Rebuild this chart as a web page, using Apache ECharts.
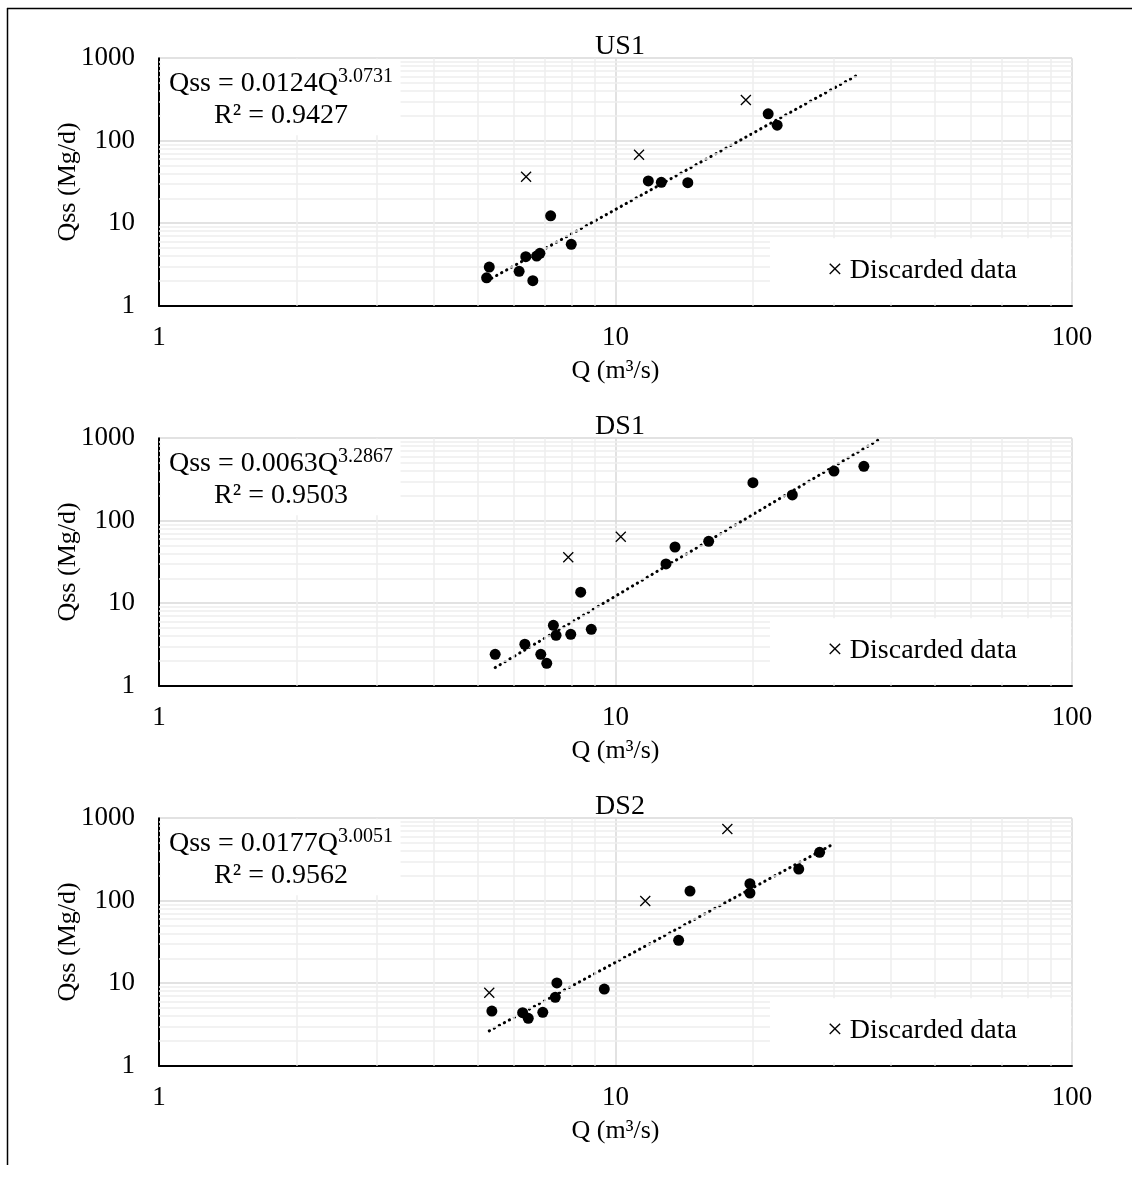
<!DOCTYPE html>
<html>
<head>
<meta charset="utf-8">
<script src="https://cdn.jsdelivr.net/npm/echarts@6/dist/echarts.min.js"></script>
<style>
html,body{margin:0;padding:0;background:#fff;}
#c{width:1132px;height:1178px;}
</style>
</head>
<body>
<div id="c"></div>
<script>
// ---- data ----
const panelNames = ['US1', 'DS1', 'DS2'];

const us1Q   = [5.22, 5.29, 6.15, 6.36, 6.59, 6.72, 6.83, 7.21, 8.0, 11.8, 12.6, 14.4, 21.6, 22.6];
const us1Qss = [2.18, 2.94, 2.61, 3.93, 2.01, 4.0, 4.32, 12.3, 5.55, 32.5, 31.3, 31.0, 212, 154];
const us1DiscQ   = [6.37, 11.26, 19.3];
const us1DiscQss = [36.6, 67.7, 311];

const ds1Q   = [5.45, 6.33, 6.86, 7.07, 7.31, 7.41, 7.98, 8.39, 8.85, 12.9, 13.5, 16.0, 20.0, 24.4, 30.1, 35.0];
const ds1Qss = [2.40, 3.18, 2.40, 1.87, 5.40, 4.08, 4.20, 13.6, 4.83, 29.9, 48.0, 56.3, 289, 205, 400, 456];
const ds1DiscQ   = [7.88, 10.27];
const ds1DiscQss = [36.0, 64.0];

const ds2Q   = [5.36, 6.26, 6.44, 6.93, 7.38, 7.44, 9.45, 13.75, 14.56, 19.7, 19.7, 25.2, 28.0];
const ds2Qss = [4.60, 4.39, 3.75, 4.44, 6.75, 10.06, 8.5, 33.1, 131, 161, 124, 242, 386];
const ds2DiscQ   = [5.29, 11.62, 17.58];
const ds2DiscQss = [7.67, 99.2, 740];

// trend lines (power fits as printed on the chart) and Q range they span
const trendA     = [0.0124, 0.0063, 0.0177];
const trendB     = [3.0731, 3.2867, 3.0051];
const trendR2    = ['0.9427', '0.9503', '0.9562'];
const trendQFrom = [5.22, 5.45, 5.29];
const trendQTo   = [33.6, 38.2, 29.8];

const xTicks = [1, 10, 100];
const yTicks = [1, 10, 100, 1000];
const xMinor = [2,3,4,5,6,7,8,9,20,30,40,50,60,70,80,90];
const yMinor = [2,3,4,5,6,7,8,9,20,30,40,50,60,70,80,90,200,300,400,500,600,700,800,900];

const keptQ = [us1Q, ds1Q, ds2Q], keptQss = [us1Qss, ds1Qss, ds2Qss];
const discQ = [us1DiscQ, ds1DiscQ, ds2DiscQ], discQss = [us1DiscQss, ds1DiscQss, ds2DiscQss];

// ---- layout ----
const FONT = 'Liberation Serif';
const tops = [58.2, 438.2, 818.2];
const GL = 159, GW = 913, GH = 247.5;

const chart = echarts.init(document.getElementById('c'), null, {renderer: 'canvas'});

const grid = [], xAxis = [], yAxis = [], series = [], title = [], graphic = [];
const zip = (a, b) => a.map((v, i) => [v, b[i]]);
const crossPath = 'path://M0,0L10,10M10,0L0,10';

for (let i = 0; i < 3; i++) {
  const T = tops[i];
  grid.push({left: GL, top: T, width: GW, height: GH});
  xAxis.push({
    type: 'log', logBase: 10, min: xTicks[0], max: xTicks[xTicks.length - 1], gridIndex: i,
    name: 'Q (m³/s)', nameLocation: 'middle', nameGap: 52, nameMoveOverlap: false,
    nameTextStyle: {fontFamily: FONT, fontSize: 26, color: '#000'},
    axisLine: {show: true, onZero: false, lineStyle: {color: '#000', width: 2}},
    axisTick: {show: false},
    axisLabel: {fontFamily: FONT, fontSize: 27, color: '#000', margin: 19,
      formatter: v => String(Math.round(v))},
    splitLine: {show: true, lineStyle: {color: '#d9d9d9', width: 1.5}}
  });
  yAxis.push({
    type: 'log', logBase: 10, min: yTicks[0], max: yTicks[yTicks.length - 1], gridIndex: i,
    name: 'Qss (Mg/d)', nameLocation: 'middle', nameGap: 78, nameRotate: 90, nameMoveOverlap: false,
    nameTextStyle: {fontFamily: FONT, fontSize: 26, color: '#000'},
    axisLine: {show: true, onZero: false, lineStyle: {color: '#000', width: 2}},
    axisTick: {show: false},
    axisLabel: {fontFamily: FONT, fontSize: 27, color: '#000', margin: 24,
      formatter: v => String(Math.round(v))},
    splitLine: {show: true, lineStyle: {color: '#d9d9d9', width: 1.5}}
  });
  // minor gridlines
  series.push({
    type: 'line', xAxisIndex: i, yAxisIndex: i, data: [], z: 1, silent: true,
    markLine: {
      silent: true, symbol: ['none', 'none'], animation: false,
      label: {show: false},
      lineStyle: {color: '#eeeeee', type: 'solid', width: 1.5},
      data: xMinor.map(v => ({xAxis: v})).concat(yMinor.map(v => ({yAxis: v})))
    }
  });
  // trend line
  const tq = [trendQFrom[i], trendQTo[i]];
  series.push({
    type: 'line', xAxisIndex: i, yAxisIndex: i, z: 3, silent: true,
    showSymbol: false, animation: false,
    data: tq.map(q => [q, trendA[i] * Math.pow(q, trendB[i])]),
    lineStyle: {color: '#000', width: 3, type: [0.3, 5.4], cap: 'round', opacity: 1}
  });
  // kept data
  series.push({
    type: 'scatter', xAxisIndex: i, yAxisIndex: i, z: 5, animation: false,
    data: zip(keptQ[i], keptQss[i]),
    symbol: 'circle', symbolSize: 11, itemStyle: {color: '#000', opacity: 1}
  });
  // discarded data
  series.push({
    type: 'scatter', xAxisIndex: i, yAxisIndex: i, z: 5, animation: false,
    data: zip(discQ[i], discQss[i]),
    symbol: crossPath, symbolSize: 10,
    itemStyle: {color: 'rgba(0,0,0,0)', borderColor: '#000', borderWidth: 1.3, opacity: 1}
  });
  title.push({
    text: panelNames[i], left: 615, top: T - 31, textAlign: 'center',
    textStyle: {fontFamily: FONT, fontSize: 28, fontWeight: 'normal', color: '#000'}
  });
  // equation box
  graphic.push({
    type: 'rect', z: 50, silent: true,
    shape: {x: GL + 1.5, y: T + 1, width: 240, height: 76},
    style: {fill: '#fff'}
  });
  graphic.push({
    type: 'text', z: 51, silent: true,
    style: {
      x: 281, y: T + 9, align: 'center', verticalAlign: 'top',
      text: '{b|Qss = ' + trendA[i].toFixed(4) + 'Q}{s|' + trendB[i].toFixed(4) + '}\n{b|R² = ' + trendR2[i] + '}',
      rich: {
        b: {fontFamily: FONT, fontSize: 28, lineHeight: 32, fill: '#000'},
        s: {fontFamily: FONT, fontSize: 20, lineHeight: 32, verticalAlign: 'top', fill: '#000'}
      }
    }
  });
  // legend box
  graphic.push({
    type: 'rect', z: 50, silent: true,
    shape: {x: 770, y: T + 180, width: 301, height: 64},
    style: {fill: '#fff'}
  });
  graphic.push({
    type: 'text', z: 51, silent: true,
    style: {
      x: 922, y: T + 212, align: 'center', verticalAlign: 'middle',
      text: '× Discarded data', fontFamily: FONT, fontSize: 28, fill: '#000'
    }
  });
}

// outer frame (top and left edges)
graphic.push({type: 'line', z: 60, silent: true, shape: {x1: 7, y1: 8.5, x2: 1132, y2: 8.5}, style: {stroke: '#000', lineWidth: 1.5}});
graphic.push({type: 'line', z: 60, silent: true, shape: {x1: 7.5, y1: 8, x2: 7.5, y2: 1165}, style: {stroke: '#000', lineWidth: 1.5}});

chart.setOption({
  animation: false,
  backgroundColor: '#fff',
  title, grid, xAxis, yAxis, series, graphic
});
</script>
</body>
</html>
